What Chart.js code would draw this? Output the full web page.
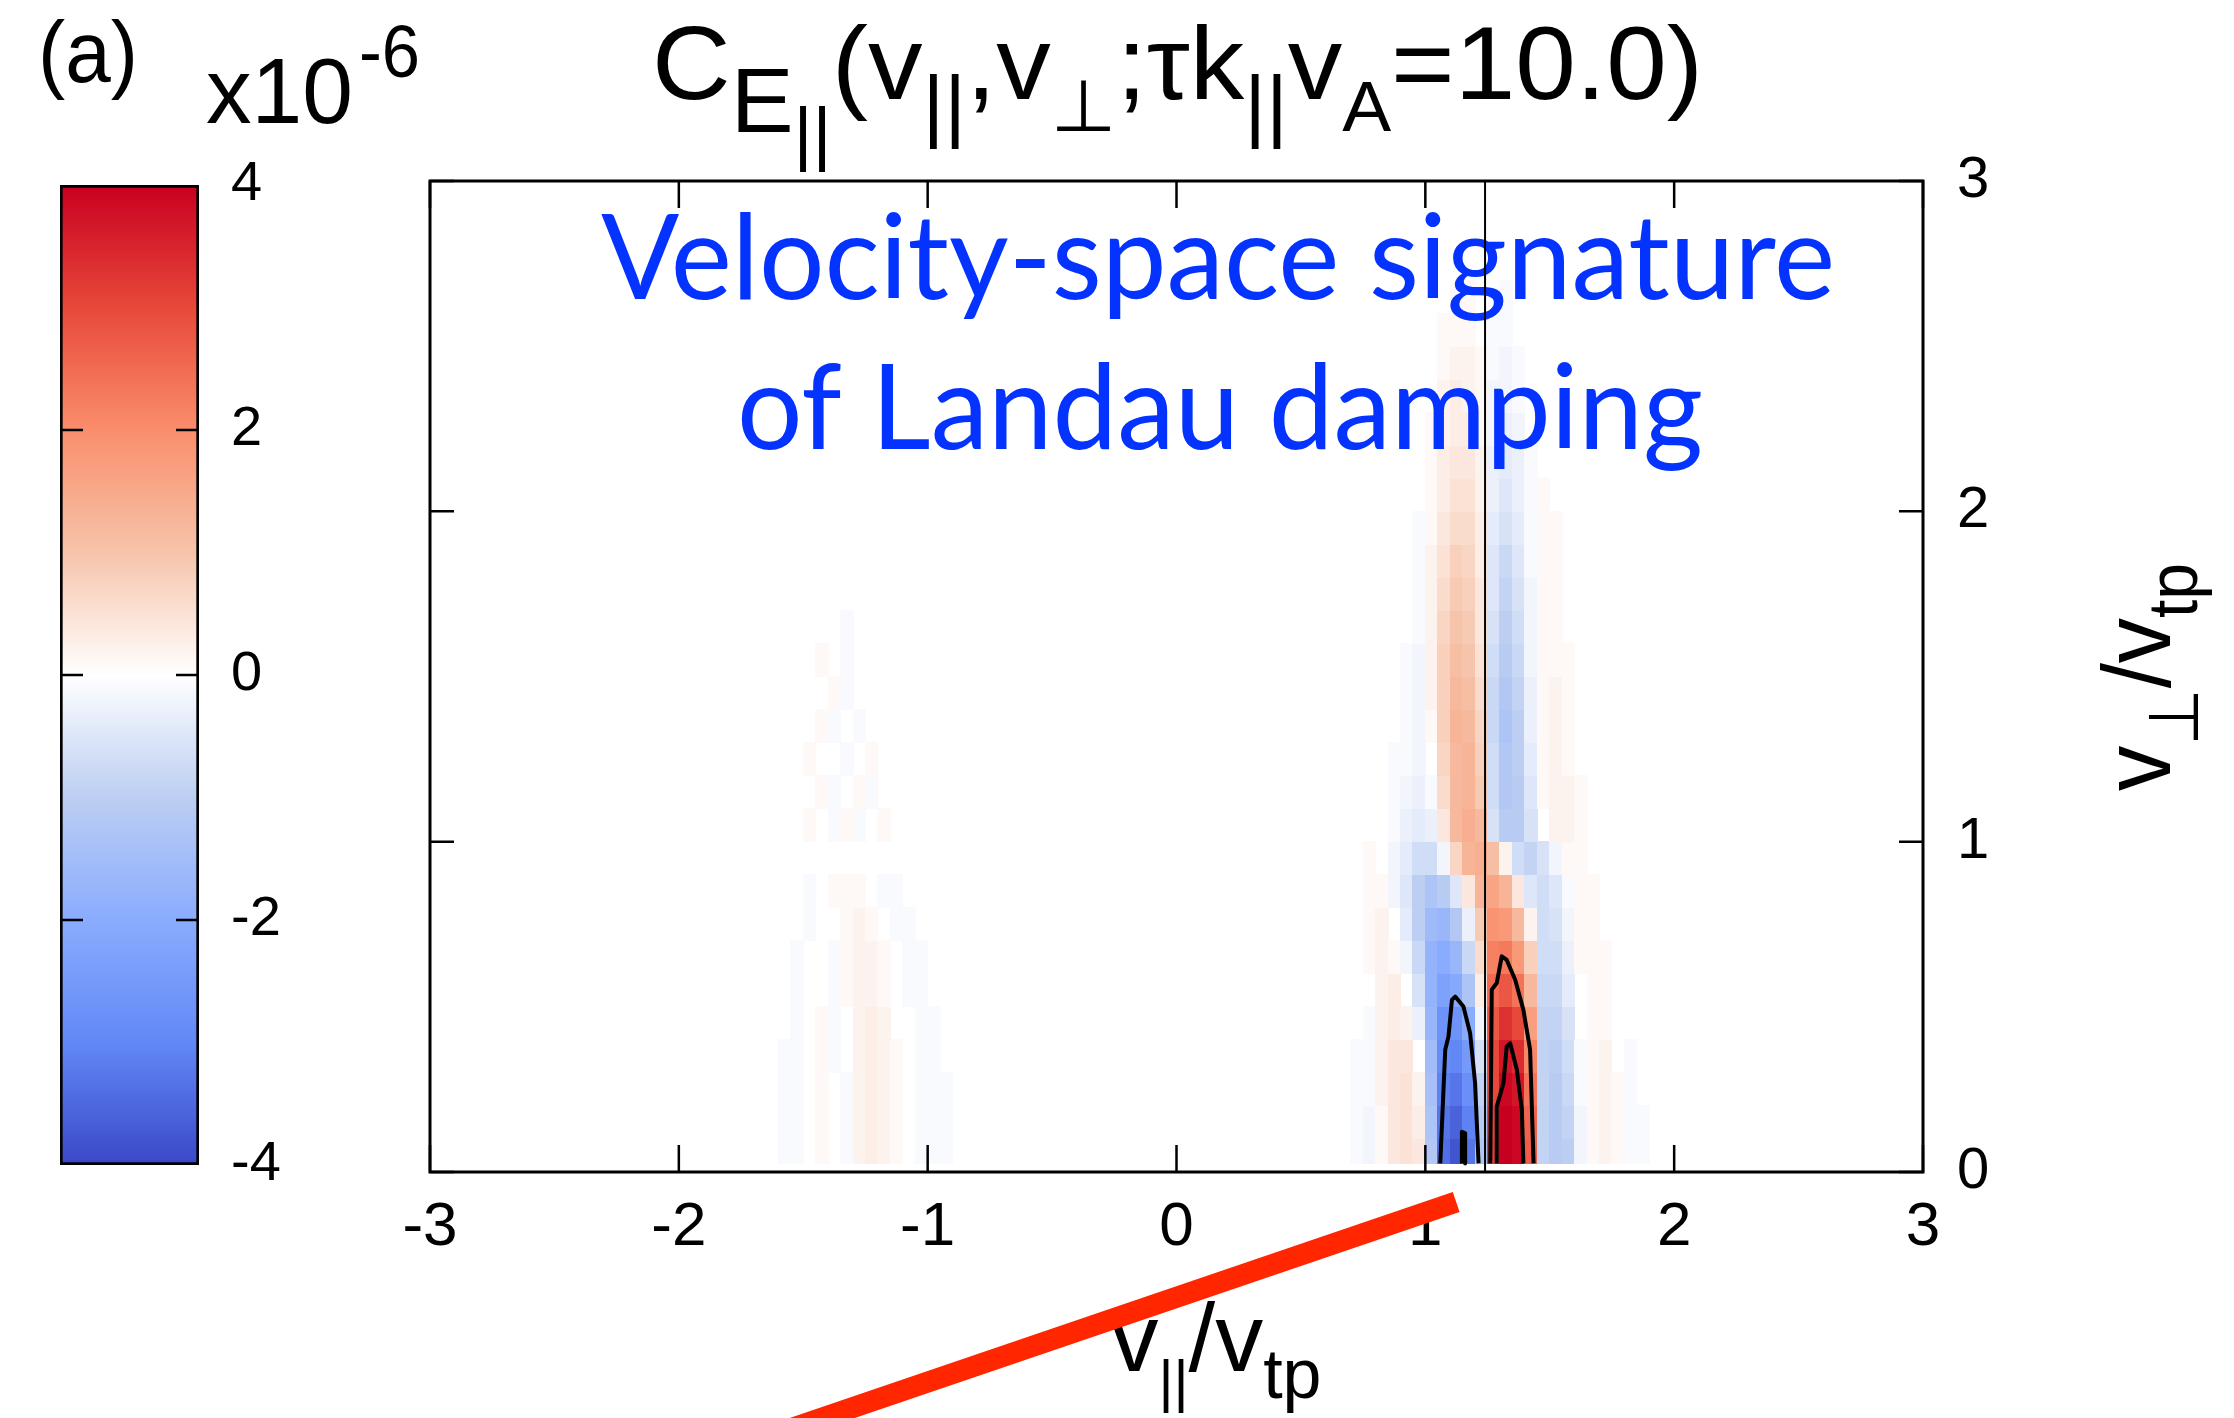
<!DOCTYPE html>
<html>
<head>
<meta charset="utf-8">
<script src="https://cdn.jsdelivr.net/npm/chart.js@4.4.0/dist/chart.umd.min.js"></script>
<style>
  html, body { margin: 0; padding: 0; background: #fff; }
  #wrap { position: relative; width: 2234px; height: 1418px; }
  canvas { position: absolute; left: 0; top: 0; }
</style>
</head>
<body>
<div id="wrap">
  <canvas id="main" width="2234" height="1418" style="width:2234px;height:1418px"></canvas>
  <canvas id="cbar" width="330" height="1418" style="width:330px;height:1418px"></canvas>
</div>
<script>
// cell centres of the correlation grid (v_par / v_tp and v_perp / v_tp)
const vParCols = [0.725, 0.775, 0.825, 0.875, 0.925, 0.975, 1.025, 1.075, 1.125, 1.175, 1.225, 1.275, 1.325,
                  1.375, 1.425, 1.475, 1.525, 1.575, 1.625, 1.675, 1.725, 1.775, 1.825, 1.875, 1.925, 1.975];
const vPerpRows = [0.05, 0.15, 0.25, 0.35, 0.45, 0.55, 0.65, 0.75, 0.85, 0.95, 1.05, 1.15, 1.25, 1.35,
                   1.45, 1.55, 1.65, 1.75, 1.85, 1.95, 2.05, 2.15, 2.25, 2.35, 2.45, 2.55, 2.65];
const gridFloor = 0.025;

// C_E|| values in units of 1e-6, one row per v_perp, bottom row first
const cRows = [
  [-0.1,-0.2,0.1,0.4,0.5,0.4,-1.2,-3.4,-3.8,-3.3,-1.2,3.2,4.0,3.9,2.7,-0.9,-1.1,-1.0,-0.2,0.1,0.2,0.1,-0.1,-0.1,0,0],
  [-0.1,-0.2,0.1,0.4,0.5,0.3,-1.3,-3.3,-3.6,-3.1,-1.1,3.1,4.0,3.9,2.6,-0.9,-1.1,-0.9,-0.2,0.1,0.2,0.1,-0.1,-0.1,0,0],
  [-0.1,-0.1,0.2,0.4,0.5,0.2,-1.4,-3.1,-3.3,-2.8,-0.9,3.0,3.9,3.7,2.4,-0.9,-1.1,-0.8,-0.1,0.1,0.2,0.1,-0.1,0,0,0],
  [-0.1,-0.1,0.2,0.4,0.4,0,-1.5,-2.9,-3.0,-2.5,-0.6,3.0,3.7,3.4,2.1,-0.9,-1.0,-0.7,-0.1,0.1,0.2,0,-0.1,0,0,0],
  [0,-0.1,0.2,0.3,0.2,-0.3,-1.7,-2.7,-2.7,-2.0,-0.2,2.8,3.3,3.0,1.7,-0.9,-0.9,-0.6,0,0.1,0.1,0,0,0,0,0],
  [0,0,0.2,0.3,0,-0.6,-1.8,-2.3,-2.1,-1.3,0.3,2.5,2.8,2.4,1.2,-0.8,-0.8,-0.4,0,0.1,0.1,0,0,0,0,0],
  [0,0.1,0.2,0.1,-0.2,-0.8,-1.8,-2.0,-1.7,-0.8,0.6,2.2,2.3,1.8,0.8,-0.7,-0.7,-0.3,0.1,0.1,0.1,0,0,0,0,0],
  [0,0.1,0.2,0,-0.4,-1.0,-1.6,-1.7,-1.2,-0.3,0.9,1.9,1.8,1.2,0.2,-0.7,-0.6,-0.2,0.1,0.1,0,0,0,0,0,0],
  [0,0.1,0.1,-0.2,-0.5,-1.0,-1.3,-1.1,-0.5,0.4,1.3,1.6,1.3,0.4,-0.5,-0.7,-0.5,-0.1,0.1,0.1,0,0,0,0,0,0],
  [0,0.1,0,-0.2,-0.4,-0.7,-0.7,-0.2,0.7,1.3,1.4,1.1,0.2,-0.7,-0.9,-0.6,-0.2,0.1,0.1,0,0,0,0,0,0,0],
  [0,0,0,-0.1,-0.3,-0.4,-0.3,0.4,1.2,1.4,1.2,-0.6,-1.1,-1.1,-0.6,0,0.2,0.2,0.1,0,0,0,0,0,0,0],
  [0,0,0,-0.1,-0.2,-0.3,-0.1,0.6,1.2,1.3,0.9,-0.7,-1.2,-1.1,-0.5,0.1,0.2,0.2,0.1,0,0,0,0,0,0,0],
  [0,0,0,-0.1,-0.1,-0.2,0,0.7,1.2,1.3,0.8,-0.7,-1.2,-1.0,-0.4,0.1,0.2,0.1,0,0,0,0,0,0,0,0],
  [0,0,0,0,-0.1,-0.2,0.1,0.8,1.3,1.2,0.7,-0.8,-1.3,-1.0,-0.3,0.1,0.2,0.1,0,0,0,0,0,0,0,0],
  [0,0,0,0,-0.1,-0.2,0.2,0.8,1.2,1.1,0.6,-0.8,-1.2,-0.9,-0.3,0.1,0.2,0.1,0,0,0,0,0,0,0,0],
  [0,0,0,0,-0.1,-0.2,0.2,0.8,1.1,1.0,0.5,-0.7,-1.1,-0.8,-0.2,0.1,0.1,0.1,0,0,0,0,0,0,0,0],
  [0,0,0,0,0,-0.1,0.2,0.7,1.0,0.9,0.4,-0.6,-1.0,-0.7,-0.2,0.1,0.1,0,0,0,0,0,0,0,0,0],
  [0,0,0,0,0,-0.1,0.2,0.6,0.9,0.8,0.4,-0.5,-0.9,-0.6,-0.2,0.1,0.1,0,0,0,0,0,0,0,0,0],
  [0,0,0,0,0,-0.1,0.2,0.5,0.8,0.7,0.3,-0.5,-0.8,-0.5,-0.1,0.1,0.1,0,0,0,0,0,0,0,0,0],
  [0,0,0,0,0,-0.1,0.1,0.4,0.6,0.6,0.3,-0.4,-0.6,-0.4,-0.1,0.1,0.1,0,0,0,0,0,0,0,0,0],
  [0,0,0,0,0,0,0.1,0.3,0.5,0.5,0.2,-0.3,-0.5,-0.3,-0.1,0.1,0,0,0,0,0,0,0,0,0,0],
  [0,0,0,0,0,0,0.1,0.3,0.4,0.4,0.2,-0.3,-0.4,-0.3,-0.1,0,0,0,0,0,0,0,0,0,0,0],
  [0,0,0,0,0,0,0.1,0.2,0.3,0.3,0.1,-0.2,-0.3,-0.2,0,0,0,0,0,0,0,0,0,0,0,0],
  [0,0,0,0,0,0,0,0.2,0.3,0.2,0.1,-0.2,-0.2,-0.1,0,0,0,0,0,0,0,0,0,0,0,0],
  [0,0,0,0,0,0,0,0.1,0.2,0.2,0.1,-0.1,-0.2,-0.1,0,0,0,0,0,0,0,0,0,0,0,0],
  [0,0,0,0,0,0,0,0.1,0.1,0.1,0,-0.1,-0.1,0,0,0,0,0,0,0,0,0,0,0,0,0],
  [0,0,0,0,0,0,0,0,0.1,0.1,0,0,-0.1,0,0,0,0,0,0,0,0,0,0,0,0,0]
];

// faint echo on the negative-v_par side
const leftCols = [-1.575, -1.525, -1.475, -1.425, -1.375, -1.325, -1.275, -1.225,
                  -1.175, -1.125, -1.075, -1.025, -0.975, -0.925, -0.875, -0.825];
const leftRows = [
  [-0.1,-0.1,0,0.1,0,-0.1,0.2,0.3,0.2,0.1,0,-0.1,-0.1,-0.1,0,0],
  [-0.1,-0.1,0,0.1,0,-0.1,0.2,0.3,0.2,0.1,0,-0.1,-0.1,-0.1,0,0],
  [-0.1,-0.1,0,0.1,0,-0.1,0.2,0.3,0.2,0.1,0,-0.1,-0.1,-0.1,0,0],
  [-0.1,-0.1,0,0.1,-0.1,0,0.2,0.3,0.2,0.1,0,-0.1,-0.1,0,0,0],
  [0,-0.1,0,0.1,-0.1,0,0.2,0.3,0.2,0,0,-0.1,-0.1,0,0,0],
  [0,-0.1,0,0,-0.1,0.1,0.2,0.2,0.1,0,-0.1,-0.1,0,0,0,0],
  [0,-0.1,0,0,-0.1,0.1,0.2,0.2,0.1,0,-0.1,-0.1,0,0,0,0],
  [0,0,-0.1,0,0,0.1,0.2,0.1,0,-0.1,-0.1,0,0,0,0,0],
  [0,0,-0.1,0,0.1,0.1,0.1,0,-0.1,-0.1,0,0,0,0,0,0],
  [0,0,0,0,0,0,0,0,0,0,0,0,0,0,0,0],
  [0,0,0.1,0,-0.1,0.1,-0.1,0,0.1,0,0,0,0,0,0,0],
  [0,0,0,0.1,-0.1,0,0.1,-0.1,0,0,0,0,0,0,0,0],
  [0,0,0.1,0,0,-0.1,0,0.1,0,0,0,0,0,0,0,0],
  [0,0,0,0.1,-0.1,0,-0.1,0,0,0,0,0,0,0,0,0],
  [0,0,0,0,0.1,-0.1,0,0,0,0,0,0,0,0,0,0],
  [0,0,0,0.1,0,-0.1,0,0,0,0,0,0,0,0,0,0],
  [0,0,0,0,0,-0.1,0,0,0,0,0,0,0,0,0,0]
];

// colour scale (x1e-6)
const cbValues = [-4, -3, -2, -1, 0, 1, 2, 3, 4];
const cbColors = [[58,72,200],[98,136,246],[138,172,254],[188,206,242],[255,255,255],
                  [246,196,170],[250,142,108],[232,72,58],[200,0,32]];

// resonant velocity line
const resPar = [1.24, 1.24];
const resPerp = [0, 3];

// contour lines
const blueOuterPar  = [1.060, 1.080, 1.093, 1.107, 1.120, 1.153, 1.180, 1.200, 1.214];
const blueOuterPerp = [0.026, 0.370, 0.410, 0.521, 0.531, 0.501, 0.420, 0.269, 0.026];
const blueInnerPar  = [1.147, 1.147, 1.160, 1.160];
const blueInnerPerp = [0.026, 0.122, 0.117, 0.026];
const redOuterPar   = [1.261, 1.267, 1.287, 1.307, 1.327, 1.361, 1.394, 1.421, 1.435];
const redOuterPerp  = [0.026, 0.552, 0.572, 0.653, 0.642, 0.582, 0.491, 0.370, 0.026];
const redInnerPar   = [1.287, 1.287, 1.314, 1.327, 1.341, 1.368, 1.388, 1.394];
const redInnerPerp  = [0.026, 0.198, 0.269, 0.380, 0.390, 0.309, 0.188, 0.026];

// red pointer drawn over the axis
const arrowPar  = [-1.569, 1.124];
const arrowPerp = [-0.782, -0.091];

const family = '"Liberation Sans", "DejaVu Sans", Arial, sans-serif';
const blueFamily = 'Lato, "Open Sans", sans-serif';

function rgb(c) { return 'rgb(' + c.map(Math.round).join(',') + ')'; }

function colorFor(v) {
  v = Math.max(cbValues[0], Math.min(cbValues[cbValues.length - 1], v));
  for (let i = 0; i < cbValues.length - 1; i++) {
    if (v <= cbValues[i + 1]) {
      const t = (v - cbValues[i]) / (cbValues[i + 1] - cbValues[i]);
      const a = cbColors[i], b = cbColors[i + 1];
      return rgb([a[0] + (b[0] - a[0]) * t, a[1] + (b[1] - a[1]) * t, a[2] + (b[2] - a[2]) * t]);
    }
  }
  return rgb(cbColors[cbColors.length - 1]);
}

function drawGrid(ctx, x, y, cols, rows) {
  const hw = (cols[1] - cols[0]) / 2;
  const hh = (vPerpRows[1] - vPerpRows[0]) / 2;
  rows.forEach((row, i) => {
    const top = y.getPixelForValue(vPerpRows[i] + hh);
    const bot = y.getPixelForValue(Math.max(vPerpRows[i] - hh, gridFloor));
    row.forEach((v, j) => {
      if (!v) return;
      const l = x.getPixelForValue(cols[j] - hw);
      const r = x.getPixelForValue(cols[j] + hw);
      ctx.fillStyle = colorFor(v);
      ctx.fillRect(Math.floor(l), Math.floor(top), Math.ceil(r) - Math.floor(l), Math.ceil(bot) - Math.floor(top));
    });
  });
}

// parts: [text, size, dy]; drawn from (x, y) along the baseline, squeezed to width
function drawRich(ctx, parts, x, y, width, align, rotate, fam) {
  fam = fam || family;
  let w = 0;
  parts.forEach(p => { ctx.font = p[1] + 'px ' + fam; w += ctx.measureText(p[0]).width; });
  const sx = width ? width / w : 1;
  ctx.save();
  ctx.translate(x, y);
  if (rotate) ctx.rotate(rotate);
  ctx.scale(sx, 1);
  let cx = align === 'center' ? -w / 2 : 0;
  ctx.textBaseline = 'alphabetic';
  ctx.textAlign = 'left';
  parts.forEach(p => {
    ctx.font = p[1] + 'px ' + fam;
    ctx.fillText(p[0], cx, p[2]);
    cx += ctx.measureText(p[0]).width;
  });
  ctx.restore();
}

const heatmapPlugin = {
  id: 'heatmap',
  beforeDatasetsDraw(chart) {
    const { ctx, chartArea: a, scales: { x, y } } = chart;
    ctx.save();
    ctx.beginPath();
    ctx.rect(a.left, a.top, a.right - a.left, a.bottom - a.top);
    ctx.clip();
    drawGrid(ctx, x, y, leftCols, leftRows);
    drawGrid(ctx, x, y, vParCols, cRows);
    ctx.restore();

    ctx.save();
    ctx.fillStyle = '#0433ff';
    drawRich(ctx, [['Velocity-space signature', 118, 0]], 1218, 299, 1234, 'center', 0, blueFamily);
    drawRich(ctx, [['of Landau damping', 118, 0]], 1220, 449, 966, 'center', 0, blueFamily);

    ctx.fillStyle = '#000';
    drawRich(ctx, [['(a)', 88, 0]], 38, 82, 100, 'left');
    drawRich(ctx, [['x10', 92, 0]], 206, 123, 147, 'left');
    drawRich(ctx, [['-6', 75, 0]], 359, 77, 61, 'left');

    drawRich(ctx, [['C', 104, 0], ['E', 90, 33], ['||', 70, 58], ['(', 104, 0], ['v', 104, 0], ['||', 80, 33],
                   [',', 104, 0], ['v', 104, 0], ['\u22A5', 72, 32], [';', 104, 0], ['\u03C4', 104, 0], ['k', 104, 0],
                   ['||', 80, 33], ['v', 104, 0], ['A', 70, 32], ['=10.0)', 104, 0]], 652, 99, 1051, 'left');

    drawRich(ctx, [['v', 96, 0], ['||', 58, 30], ['/v', 96, 0], ['tp', 70, 27]], 1216, 1371, 211, 'center');
    drawRich(ctx, [['v', 96, 0], ['\u22A5', 70, 28], ['/v', 96, 0], ['tp', 70, 27]], 2170, 677, 228, 'center', -Math.PI / 2);
    ctx.restore();
  }
};

const framePlugin = {
  id: 'frame',
  afterDatasetsDraw(chart) {
    const { ctx, chartArea: a, scales: { x, y } } = chart;
    ctx.save();
    ctx.strokeStyle = '#000';
    ctx.lineWidth = 3;
    ctx.strokeRect(a.left, a.top, a.right - a.left, a.bottom - a.top);
    ctx.lineWidth = 2.5;
    ctx.beginPath();
    x.ticks.forEach(t => {
      const px = x.getPixelForValue(t.value);
      ctx.moveTo(px, a.bottom); ctx.lineTo(px, a.bottom - 27);
      ctx.moveTo(px, a.top); ctx.lineTo(px, a.top + 27);
    });
    y.ticks.forEach(t => {
      const py = y.getPixelForValue(t.value);
      ctx.moveTo(a.right, py); ctx.lineTo(a.right - 24, py);
      ctx.moveTo(a.left, py); ctx.lineTo(a.left + 24, py);
    });
    ctx.stroke();
    ctx.restore();
  }
};

function lineSet(px, py, color, width, extra) {
  return Object.assign({
    data: px.map((v, i) => ({ x: v, y: py[i] })),
    showLine: true, borderColor: color, borderWidth: width,
    pointRadius: 0, fill: false, tension: 0, borderJoinStyle: 'round'
  }, extra || {});
}

new Chart(document.getElementById('main'), {
  type: 'scatter',
  data: {
    datasets: [
      lineSet(resPar, resPerp, '#000', 2),
      lineSet(blueOuterPar, blueOuterPerp, '#000', 4),
      lineSet(blueInnerPar, blueInnerPerp, '#000', 4),
      lineSet(redOuterPar, redOuterPerp, '#000', 4),
      lineSet(redInnerPar, redInnerPerp, '#000', 4),
      lineSet(arrowPar, arrowPerp, '#ff2600', 21, { clip: false, borderCapStyle: 'butt' })
    ]
  },
  options: {
    responsive: false,
    animation: false,
    devicePixelRatio: 1,
    layout: { padding: { left: 430, top: 181, right: 0, bottom: 0 } },
    plugins: { legend: { display: false }, tooltip: { enabled: false } },
    scales: {
      x: {
        type: 'linear', min: -3, max: 3,
        ticks: { stepSize: 1, padding: 19, color: '#000', font: { family: family, size: 62 } },
        grid: { display: false, drawTicks: false },
        border: { display: false },
        afterFit(s) { s.height = 246; }
      },
      y: {
        type: 'linear', position: 'right', min: 0, max: 3,
        ticks: { stepSize: 1, padding: 34, color: '#000', font: { family: family, size: 58 } },
        grid: { display: false, drawTicks: false },
        border: { display: false },
        afterFit(s) { s.width = 311; }
      }
    }
  },
  plugins: [heatmapPlugin, framePlugin]
});

// colour bar
const cbTicksPlugin = {
  id: 'cbTicks',
  afterDatasetsDraw(chart) {
    const { ctx, chartArea: a, scales: { y } } = chart;
    ctx.save();
    ctx.strokeStyle = '#000';
    ctx.lineWidth = 2.5;
    ctx.beginPath();
    y.ticks.forEach(t => {
      if (t.value === y.min || t.value === y.max) return;
      const py = y.getPixelForValue(t.value);
      ctx.moveTo(a.left, py); ctx.lineTo(a.left + 23, py);
      ctx.moveTo(a.right, py); ctx.lineTo(a.right - 23, py);
    });
    ctx.stroke();
    ctx.restore();
  }
};

function cbGradient(c) {
  const ch = c.chart;
  const ys = ch.scales && ch.scales.y;
  if (!ch.chartArea || !ys) return 'rgba(0,0,0,0)';
  const lo = cbValues[0], hi = cbValues[cbValues.length - 1];
  const p0 = ys.getPixelForValue(lo), p1 = ys.getPixelForValue(hi);
  if (!isFinite(p0) || !isFinite(p1)) return 'rgba(0,0,0,0)';
  const g = ch.ctx.createLinearGradient(0, p0, 0, p1);
  cbValues.forEach((v, i) => g.addColorStop((v - lo) / (hi - lo), rgb(cbColors[i])));
  return g;
}

const cbChart = new Chart(document.getElementById('cbar'), {
  type: 'bar',
  data: {
    labels: [''],
    datasets: [{
      data: [[cbValues[0], cbValues[cbValues.length - 1]]],
      backgroundColor: cbGradient,
      borderColor: '#000',
      borderWidth: 3,
      borderSkipped: false,
      barPercentage: 1,
      categoryPercentage: 1
    }]
  },
  options: {
    responsive: false,
    animation: false,
    devicePixelRatio: 1,
    layout: { padding: { left: 60, top: 185, bottom: 253, right: 0 } },
    plugins: { legend: { display: false }, tooltip: { enabled: false } },
    scales: {
      x: { display: false },
      y: {
        position: 'right', min: -4, max: 4,
        ticks: { stepSize: 2, padding: 32, color: '#000', font: { family: family, size: 56 } },
        grid: { display: false, drawTicks: false },
        border: { display: false },
        afterFit(s) { s.width = 131; }
      }
    }
  },
  plugins: [cbTicksPlugin]
});
cbChart.update();
</script>
</body>
</html>
